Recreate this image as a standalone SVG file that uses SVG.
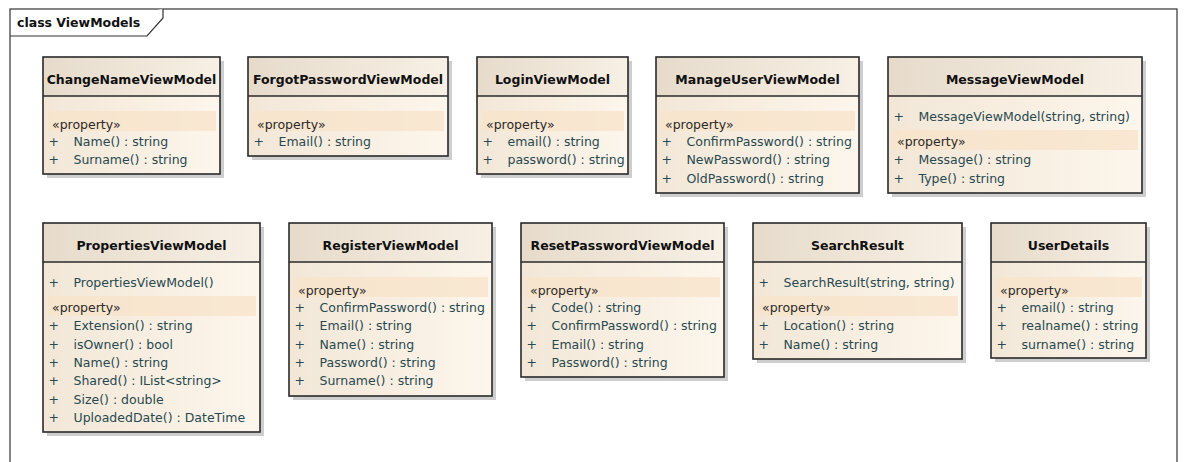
<svg xmlns="http://www.w3.org/2000/svg" width="1186" height="462" viewBox="0 0 1186 462">
<defs>
<linearGradient id="gHead" x1="0" y1="0" x2="1" y2="0"><stop offset="0" stop-color="#e6dbcb"/><stop offset="1" stop-color="#f8f0e5"/></linearGradient>
<linearGradient id="gBody" x1="0" y1="0" x2="1" y2="0"><stop offset="0" stop-color="#f2e7d7"/><stop offset="1" stop-color="#fdf6ec"/></linearGradient>
</defs>
<style>
.shadow{fill:#bdbdbd;opacity:0.75}
.body{fill:url(#gBody)}
.head{fill:url(#gHead)}
.band{fill:#f7e4cb;opacity:0.8}
.frame{fill:none;stroke:#2a2a2a;stroke-width:1.6}
.div{stroke:#2a2a2a;stroke-width:1.4}
text{font-family:"DejaVu Sans","Liberation Sans",sans-serif;font-size:12.5px}
.title{font-weight:bold;fill:#111;text-anchor:middle}
.stereo{fill:#2a2a2a}
.vis{fill:#28494f;text-anchor:middle}
.attr{fill:#28494f}
.pkg{fill:none;stroke:#333;stroke-width:1.2}
.pkgtitle{font-weight:bold;fill:#111}
</style>
<rect width="1186" height="462" fill="#ffffff"/>
<g id="package">
<rect class="pkg" x="10" y="9" width="1167" height="470"/>
<path d="M10,36 H147 L163,18 V9" fill="#ffffff" stroke="#333" stroke-width="1.2"/>
<text class="pkgtitle" x="17" y="27">class ViewModels</text>
</g>
<g id="connectors"/>

<g id="ChangeNameViewModel" transform="translate(43,57)">
<rect class="shadow" x="4" y="4" width="177" height="117"/>
<rect class="body" width="177" height="117"/>
<rect class="head" width="177" height="39"/>
<rect class="band" x="5" y="54" width="168" height="20"/>
<rect class="frame" width="177" height="117"/>
<line class="div" x1="0" y1="39" x2="177" y2="39"/>
<text class="title" x="88.5" y="26.5">ChangeNameViewModel</text>
<text class="stereo" x="9" y="71.5">«property»</text>
<text class="vis" x="10.7" y="89">+</text><text class="attr" x="30.5" y="89">Name() : string</text>
<text class="vis" x="10.7" y="107.3">+</text><text class="attr" x="30.5" y="107.3">Surname() : string</text>
</g>

<g id="ForgotPasswordViewModel" transform="translate(248,57)">
<rect class="shadow" x="4" y="4" width="200" height="99"/>
<rect class="body" width="200" height="99"/>
<rect class="head" width="200" height="39"/>
<rect class="band" x="5" y="54" width="191" height="20"/>
<rect class="frame" width="200" height="99"/>
<line class="div" x1="0" y1="39" x2="200" y2="39"/>
<text class="title" x="100" y="26.5">ForgotPasswordViewModel</text>
<text class="stereo" x="9" y="71.5">«property»</text>
<text class="vis" x="10.7" y="89">+</text><text class="attr" x="30.5" y="89">Email() : string</text>
</g>

<g id="LoginViewModel" transform="translate(477,57)">
<rect class="shadow" x="4" y="4" width="151" height="117"/>
<rect class="body" width="151" height="117"/>
<rect class="head" width="151" height="39"/>
<rect class="band" x="5" y="54" width="142" height="20"/>
<rect class="frame" width="151" height="117"/>
<line class="div" x1="0" y1="39" x2="151" y2="39"/>
<text class="title" x="75.5" y="26.5">LoginViewModel</text>
<text class="stereo" x="9" y="71.5">«property»</text>
<text class="vis" x="10.7" y="89">+</text><text class="attr" x="30.5" y="89">email() : string</text>
<text class="vis" x="10.7" y="107.3">+</text><text class="attr" x="30.5" y="107.3">password() : string</text>
</g>

<g id="ManageUserViewModel" transform="translate(656,57)">
<rect class="shadow" x="4" y="4" width="203" height="136"/>
<rect class="body" width="203" height="136"/>
<rect class="head" width="203" height="39"/>
<rect class="band" x="5" y="54" width="194" height="20"/>
<rect class="frame" width="203" height="136"/>
<line class="div" x1="0" y1="39" x2="203" y2="39"/>
<text class="title" x="101.5" y="26.5">ManageUserViewModel</text>
<text class="stereo" x="9" y="71.5">«property»</text>
<text class="vis" x="10.7" y="89">+</text><text class="attr" x="30.5" y="89">ConfirmPassword() : string</text>
<text class="vis" x="10.7" y="107.3">+</text><text class="attr" x="30.5" y="107.3">NewPassword() : string</text>
<text class="vis" x="10.7" y="125.6">+</text><text class="attr" x="30.5" y="125.6">OldPassword() : string</text>
</g>

<g id="MessageViewModel" transform="translate(888,57)">
<rect class="shadow" x="4" y="4" width="254" height="136"/>
<rect class="body" width="254" height="136"/>
<rect class="head" width="254" height="39"/>
<rect class="band" x="5" y="73" width="245" height="20"/>
<rect class="frame" width="254" height="136"/>
<line class="div" x1="0" y1="39" x2="254" y2="39"/>
<text class="title" x="127" y="26.5">MessageViewModel</text>
<text class="vis" x="10.7" y="64">+</text><text class="attr" x="30.5" y="64">MessageViewModel(string, string)</text>
<text class="stereo" x="9" y="89">«property»</text>
<text class="vis" x="10.7" y="107.3">+</text><text class="attr" x="30.5" y="107.3">Message() : string</text>
<text class="vis" x="10.7" y="125.6">+</text><text class="attr" x="30.5" y="125.6">Type() : string</text>
</g>

<g id="PropertiesViewModel" transform="translate(43,223)">
<rect class="shadow" x="4" y="4" width="217" height="209"/>
<rect class="body" width="217" height="209"/>
<rect class="head" width="217" height="39"/>
<rect class="band" x="5" y="73" width="208" height="20"/>
<rect class="frame" width="217" height="209"/>
<line class="div" x1="0" y1="39" x2="217" y2="39"/>
<text class="title" x="108.5" y="26.5">PropertiesViewModel</text>
<text class="vis" x="10.7" y="64">+</text><text class="attr" x="30.5" y="64">PropertiesViewModel()</text>
<text class="stereo" x="9" y="89">«property»</text>
<text class="vis" x="10.7" y="107.3">+</text><text class="attr" x="30.5" y="107.3">Extension() : string</text>
<text class="vis" x="10.7" y="125.6">+</text><text class="attr" x="30.5" y="125.6">isOwner() : bool</text>
<text class="vis" x="10.7" y="143.9">+</text><text class="attr" x="30.5" y="143.9">Name() : string</text>
<text class="vis" x="10.7" y="162.2">+</text><text class="attr" x="30.5" y="162.2">Shared() : IList&lt;string&gt;</text>
<text class="vis" x="10.7" y="180.5">+</text><text class="attr" x="30.5" y="180.5">Size() : double</text>
<text class="vis" x="10.7" y="198.8">+</text><text class="attr" x="30.5" y="198.8">UploadedDate() : DateTime</text>
</g>

<g id="RegisterViewModel" transform="translate(289,223)">
<rect class="shadow" x="4" y="4" width="203" height="173"/>
<rect class="body" width="203" height="173"/>
<rect class="head" width="203" height="39"/>
<rect class="band" x="5" y="54" width="194" height="20"/>
<rect class="frame" width="203" height="173"/>
<line class="div" x1="0" y1="39" x2="203" y2="39"/>
<text class="title" x="101.5" y="26.5">RegisterViewModel</text>
<text class="stereo" x="9" y="71.5">«property»</text>
<text class="vis" x="10.7" y="89">+</text><text class="attr" x="30.5" y="89">ConfirmPassword() : string</text>
<text class="vis" x="10.7" y="107.3">+</text><text class="attr" x="30.5" y="107.3">Email() : string</text>
<text class="vis" x="10.7" y="125.6">+</text><text class="attr" x="30.5" y="125.6">Name() : string</text>
<text class="vis" x="10.7" y="143.9">+</text><text class="attr" x="30.5" y="143.9">Password() : string</text>
<text class="vis" x="10.7" y="162.2">+</text><text class="attr" x="30.5" y="162.2">Surname() : string</text>
</g>

<g id="ResetPasswordViewModel" transform="translate(521,223)">
<rect class="shadow" x="4" y="4" width="203" height="154"/>
<rect class="body" width="203" height="154"/>
<rect class="head" width="203" height="39"/>
<rect class="band" x="5" y="54" width="194" height="20"/>
<rect class="frame" width="203" height="154"/>
<line class="div" x1="0" y1="39" x2="203" y2="39"/>
<text class="title" x="101.5" y="26.5">ResetPasswordViewModel</text>
<text class="stereo" x="9" y="71.5">«property»</text>
<text class="vis" x="10.7" y="89">+</text><text class="attr" x="30.5" y="89">Code() : string</text>
<text class="vis" x="10.7" y="107.3">+</text><text class="attr" x="30.5" y="107.3">ConfirmPassword() : string</text>
<text class="vis" x="10.7" y="125.6">+</text><text class="attr" x="30.5" y="125.6">Email() : string</text>
<text class="vis" x="10.7" y="143.9">+</text><text class="attr" x="30.5" y="143.9">Password() : string</text>
</g>

<g id="SearchResult" transform="translate(753,223)">
<rect class="shadow" x="4" y="4" width="209" height="136"/>
<rect class="body" width="209" height="136"/>
<rect class="head" width="209" height="39"/>
<rect class="band" x="5" y="73" width="200" height="20"/>
<rect class="frame" width="209" height="136"/>
<line class="div" x1="0" y1="39" x2="209" y2="39"/>
<text class="title" x="104.5" y="26.5">SearchResult</text>
<text class="vis" x="10.7" y="64">+</text><text class="attr" x="30.5" y="64">SearchResult(string, string)</text>
<text class="stereo" x="9" y="89">«property»</text>
<text class="vis" x="10.7" y="107.3">+</text><text class="attr" x="30.5" y="107.3">Location() : string</text>
<text class="vis" x="10.7" y="125.6">+</text><text class="attr" x="30.5" y="125.6">Name() : string</text>
</g>

<g id="UserDetails" transform="translate(991,223)">
<rect class="shadow" x="4" y="4" width="155" height="135"/>
<rect class="body" width="155" height="135"/>
<rect class="head" width="155" height="39"/>
<rect class="band" x="5" y="54" width="146" height="20"/>
<rect class="frame" width="155" height="135"/>
<line class="div" x1="0" y1="39" x2="155" y2="39"/>
<text class="title" x="77.5" y="26.5">UserDetails</text>
<text class="stereo" x="9" y="71.5">«property»</text>
<text class="vis" x="10.7" y="89">+</text><text class="attr" x="30.5" y="89">email() : string</text>
<text class="vis" x="10.7" y="107.3">+</text><text class="attr" x="30.5" y="107.3">realname() : string</text>
<text class="vis" x="10.7" y="125.6">+</text><text class="attr" x="30.5" y="125.6">surname() : string</text>
</g>
</svg>
